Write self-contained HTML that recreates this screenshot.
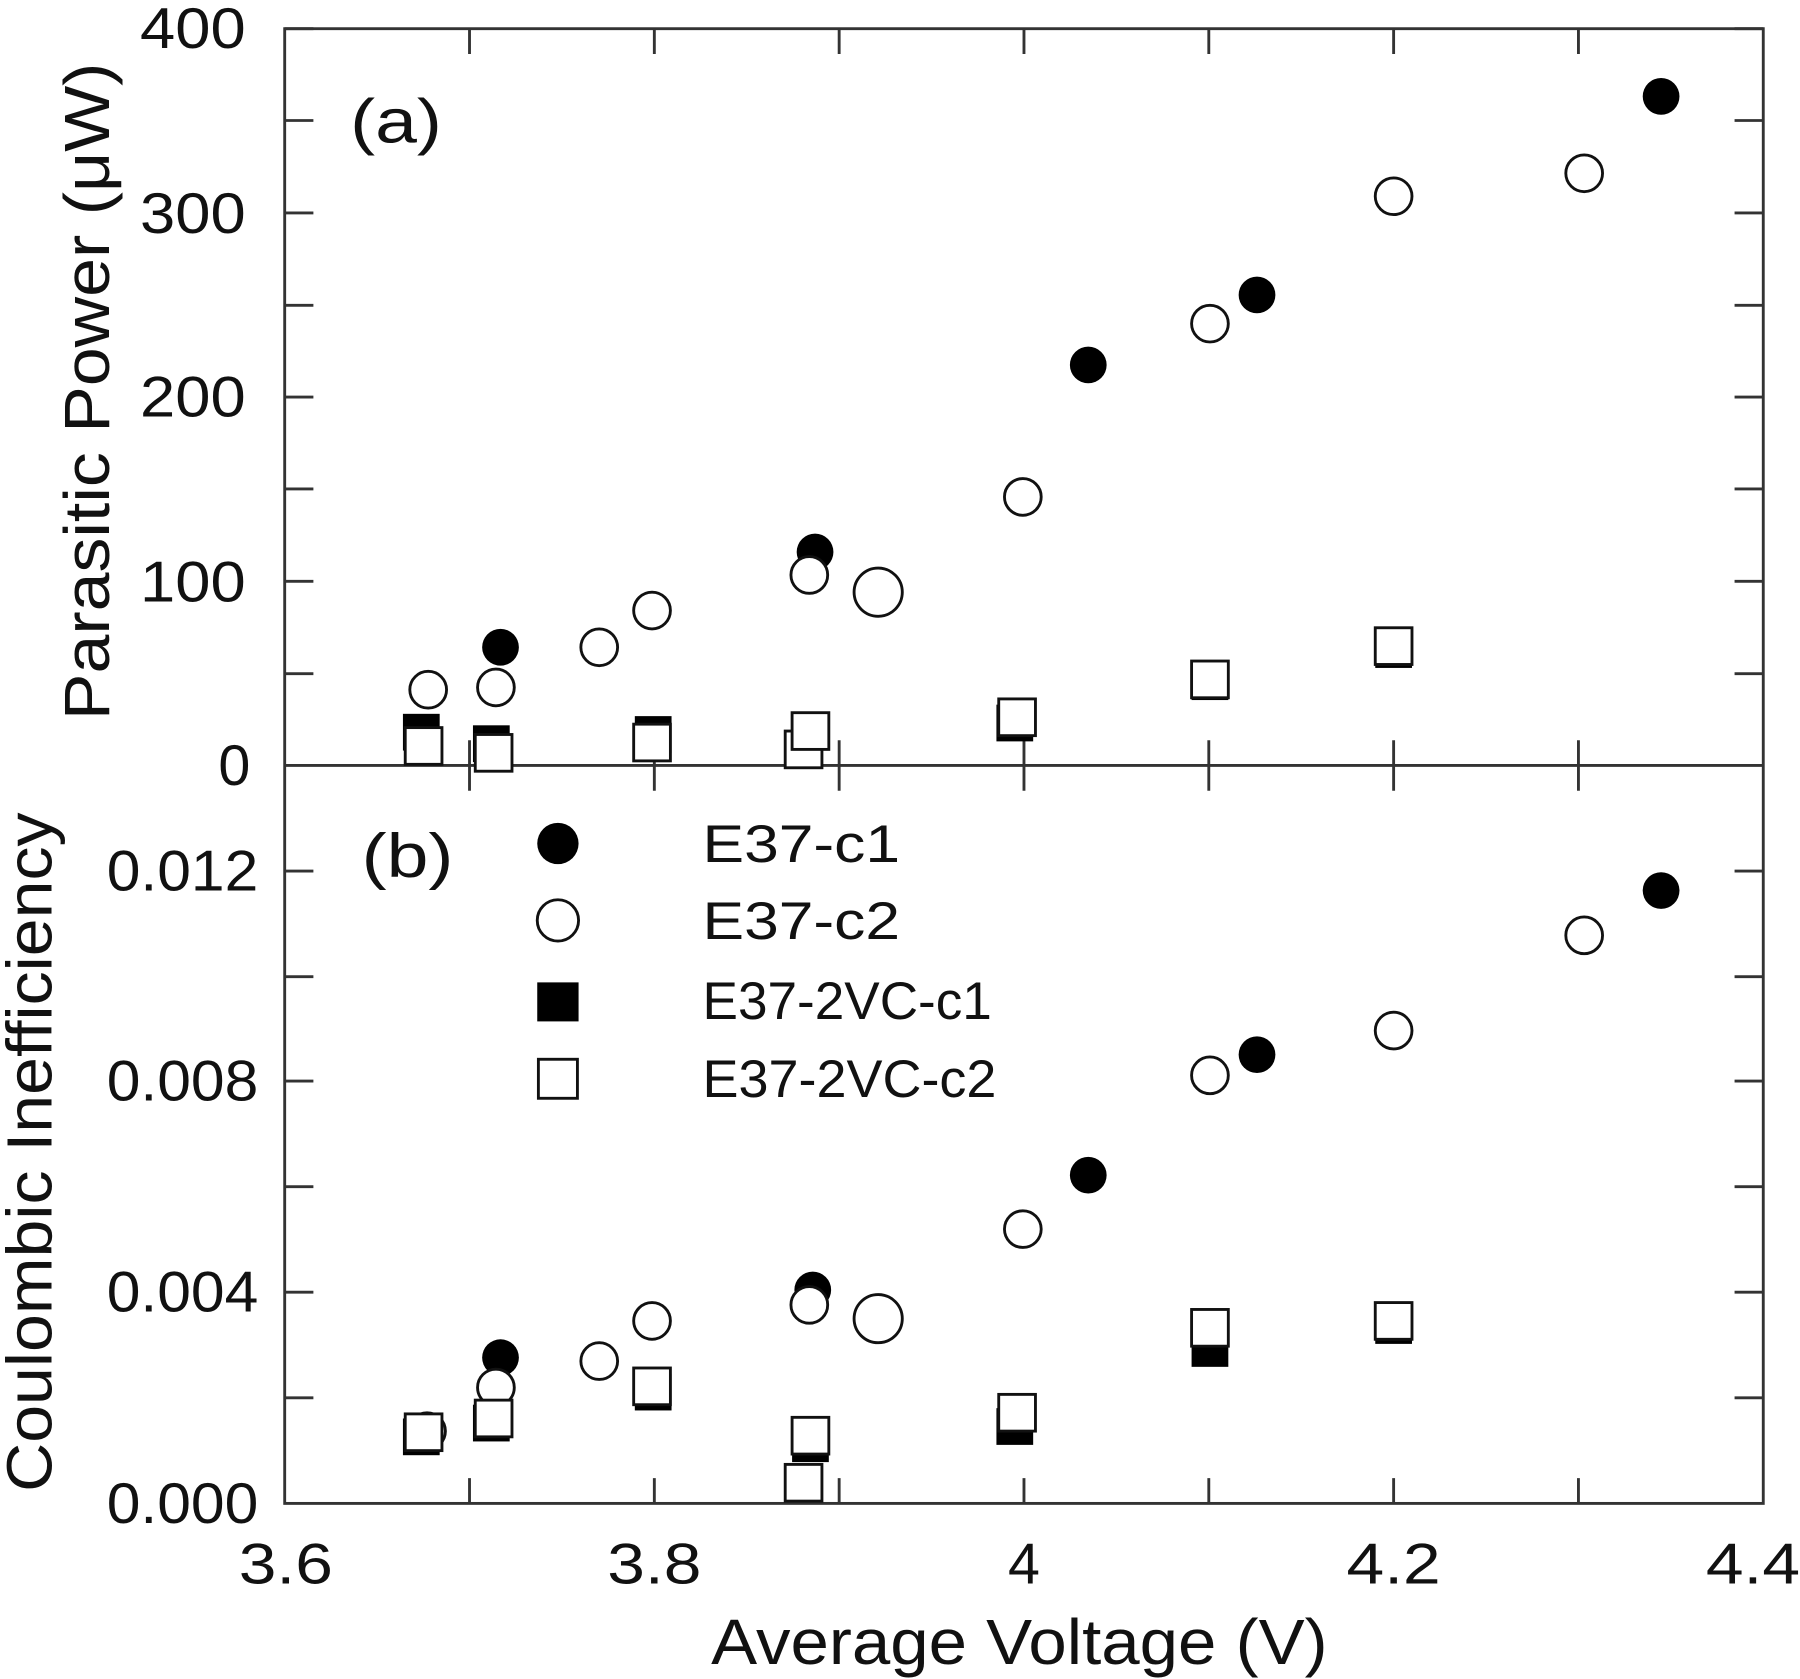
<!DOCTYPE html>
<html><head><meta charset="utf-8"><style>html,body{margin:0;padding:0;background:#fff}svg{display:block}</style></head>
<body>
<svg width="1800" height="1679" viewBox="0 0 1568 1463" preserveAspectRatio="none" xmlns="http://www.w3.org/2000/svg" font-family="Liberation Sans, sans-serif">
<rect x="0" y="0" width="1568" height="1463" fill="#fff"/>
<g stroke="#333" stroke-width="2.5" fill="none">
<rect x="248" y="25" width="1288" height="1285"/>
<line x1="248" y1="667" x2="1536" y2="667"/>
<path d="M248 25h25M248 105h25M248 185.5h25M248 266h25M248 346h25M248 426h25M248 506.5h25M248 587h25
M1536 25h-25M1536 105h-25M1536 185.5h-25M1536 266h-25M1536 346h-25M1536 426h-25M1536 506.5h-25M1536 587h-25"/>
<path d="M248 759h25M248 851h25M248 942h25M248 1034h25M248 1126h25M248 1218h25
M1536 759h-25M1536 851h-25M1536 942h-25M1536 1034h-25M1536 1126h-25M1536 1218h-25"/>
<path d="M409 1310v-22M570 1310v-22M731 1310v-22M892 1310v-22M1053 1310v-22M1214 1310v-22M1375 1310v-22
M409 645v44M570 645v44M731 645v44M892 645v44M1053 645v44M1214 645v44M1375 645v44
M409 25v22M570 25v22M731 25v22M892 25v22M1053 25v22M1214 25v22M1375 25v22"/>
</g>
<g font-size="50" fill="#111" text-anchor="end" lengthAdjust="spacingAndGlyphs">
<text x="214" y="42" textLength="92" lengthAdjust="spacingAndGlyphs">400</text>
<text x="214" y="203" textLength="92" lengthAdjust="spacingAndGlyphs">300</text>
<text x="214" y="363" textLength="92" lengthAdjust="spacingAndGlyphs">200</text>
<text x="214" y="524" textLength="92" lengthAdjust="spacingAndGlyphs">100</text>
<text x="218" y="684">0</text>
<text x="225" y="776" textLength="132" lengthAdjust="spacingAndGlyphs">0.012</text>
<text x="225" y="959" textLength="132" lengthAdjust="spacingAndGlyphs">0.008</text>
<text x="225" y="1143" textLength="132" lengthAdjust="spacingAndGlyphs">0.004</text>
<text x="225" y="1327" textLength="132" lengthAdjust="spacingAndGlyphs">0.000</text>
</g>
<g font-size="50" fill="#111" text-anchor="middle">
<text x="249" y="1380" textLength="82" lengthAdjust="spacingAndGlyphs">3.6</text>
<text x="570" y="1380" textLength="82" lengthAdjust="spacingAndGlyphs">3.8</text>
<text x="892" y="1380">4</text>
<text x="1214" y="1380" textLength="82" lengthAdjust="spacingAndGlyphs">4.2</text>
<text x="1527" y="1380" textLength="82" lengthAdjust="spacingAndGlyphs">4.4</text>
</g>
<text x="888" y="1450" font-size="56" text-anchor="middle" fill="#111" textLength="537" lengthAdjust="spacingAndGlyphs">Average Voltage (V)</text>
<text transform="translate(95,341) rotate(-90)" font-size="56" text-anchor="middle" fill="#111" textLength="573" lengthAdjust="spacingAndGlyphs">Parasitic Power (μW)</text>
<text transform="translate(45,1004) rotate(-90)" font-size="56" text-anchor="middle" fill="#111" textLength="592" lengthAdjust="spacingAndGlyphs">Coulombic Inefficiency</text>
<text x="305" y="124" font-size="54" fill="#111" textLength="80" lengthAdjust="spacingAndGlyphs">(a)</text>
<text x="315" y="764" font-size="54" fill="#111" textLength="80" lengthAdjust="spacingAndGlyphs">(b)</text>
<g font-size="46" fill="#111">
<text x="612" y="751" textLength="172" lengthAdjust="spacingAndGlyphs">E37-c1</text>
<text x="612" y="818" textLength="172" lengthAdjust="spacingAndGlyphs">E37-c2</text>
<text x="612" y="888" textLength="252" lengthAdjust="spacingAndGlyphs">E37-2VC-c1</text>
<text x="612" y="956" textLength="256" lengthAdjust="spacingAndGlyphs">E37-2VC-c2</text>
</g>
<g fill="#000">
<circle cx="486" cy="735" r="18"/>
<rect x="468" y="856" width="36" height="34"/>
<circle cx="436" cy="564" r="16"/><circle cx="948" cy="318" r="16"/><circle cx="1095" cy="257" r="16"/><circle cx="1447" cy="84" r="16"/><circle cx="710" cy="481" r="16"/>
<circle cx="436" cy="1183" r="16"/><circle cx="708" cy="1124" r="16"/><circle cx="948" cy="1024" r="16"/><circle cx="1095" cy="919" r="16"/><circle cx="1447" cy="776" r="16"/>
<rect x="351" y="622" width="32" height="32"/><rect x="412" y="632" width="32" height="32"/><rect x="553" y="624" width="32" height="32"/><rect x="690" y="620" width="32" height="32"/><rect x="868" y="614" width="32" height="32"/><rect x="1038" y="578" width="32" height="32"/><rect x="1198" y="550" width="32" height="32"/>
<rect x="351" y="1236" width="32" height="32"/><rect x="412" y="1224" width="32" height="32"/><rect x="553" y="1197" width="32" height="32"/><rect x="690" y="1242" width="32" height="32"/><rect x="868" y="1227" width="32" height="32"/><rect x="1038" y="1159" width="32" height="32"/><rect x="1198" y="1139" width="32" height="32"/>
</g>
<g fill="#fff" stroke="#111" stroke-width="2.5">
<circle cx="486" cy="802" r="18"/>
<rect x="469" y="923" width="34" height="34"/>
<circle cx="373" cy="601" r="16"/><circle cx="432" cy="599" r="16"/><circle cx="522" cy="564" r="16"/><circle cx="568" cy="532" r="16"/><circle cx="705" cy="501" r="16"/><circle cx="765" cy="516" r="21"/><circle cx="891" cy="433" r="16"/><circle cx="1054" cy="282" r="16"/><circle cx="1214" cy="171" r="16"/><circle cx="1380" cy="151" r="16"/>
<circle cx="372" cy="1247" r="16"/><circle cx="432" cy="1209" r="16"/><circle cx="522" cy="1186" r="16"/><circle cx="568" cy="1151" r="16"/><circle cx="705" cy="1137" r="16"/><circle cx="765" cy="1149" r="21"/><circle cx="891" cy="1071" r="16"/><circle cx="1054" cy="937" r="16"/><circle cx="1214" cy="898" r="16"/><circle cx="1380" cy="815" r="16"/>
<rect x="353" y="634" width="32" height="32"/><rect x="414" y="640" width="32" height="32"/><rect x="552" y="631" width="32" height="32"/><rect x="684" y="637" width="32" height="32"/><rect x="690" y="621" width="32" height="32"/><rect x="870" y="609" width="32" height="32"/><rect x="1038" y="576" width="32" height="32"/><rect x="1198" y="547" width="32" height="32"/>
<rect x="353" y="1232" width="32" height="32"/><rect x="414" y="1220" width="32" height="32"/><rect x="552" y="1192" width="32" height="32"/><rect x="684" y="1276" width="32" height="32"/><rect x="690" y="1235" width="32" height="32"/><rect x="870" y="1215" width="32" height="32"/><rect x="1038" y="1141" width="32" height="32"/><rect x="1198" y="1135" width="32" height="32"/>
</g>
</svg>
</body></html>
